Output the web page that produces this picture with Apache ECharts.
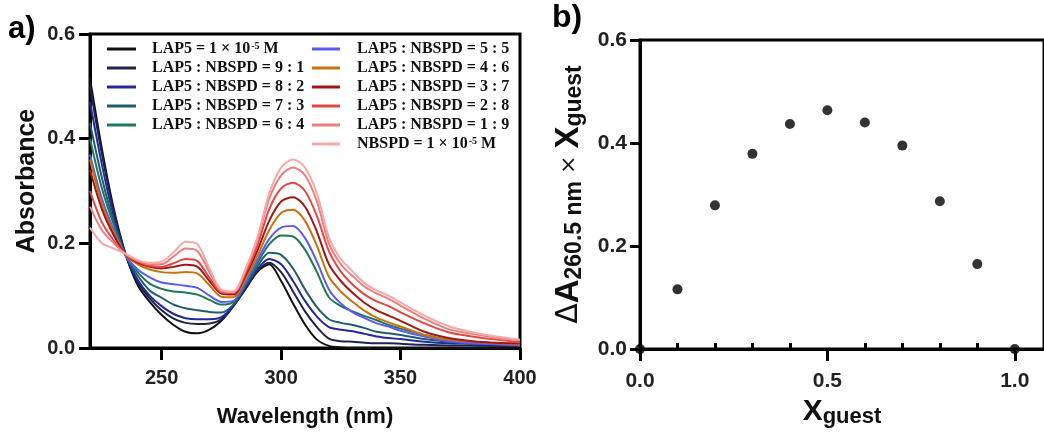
<!DOCTYPE html>
<html>
<head>
<meta charset="utf-8">
<script src="https://cdn.jsdelivr.net/npm/echarts@6/dist/echarts.min.js"></script>
<style>html,body{margin:0;padding:0;background:#fff;}#c{width:1044px;height:433px;}</style>
</head>
<body>
<div id="c"></div>
<script>
// ---------- DATA ----------
var wavelengths = [220,225,230,235,240,245,250,255,260,265,270,275,280,285,290,295,300,305,310,315,320,325,330,335,340,345,350,360,370,380,390,400];
var sLAP5   = [0.515,0.38,0.265,0.178,0.12,0.088,0.063,0.044,0.031,0.028,0.035,0.052,0.08,0.112,0.145,0.16,0.128,0.085,0.045,0.016,0.004,0.001,0,0,0,0,0,0,0,0,0,0];
var s91     = [0.50,0.37,0.26,0.177,0.125,0.095,0.072,0.056,0.048,0.046,0.047,0.055,0.08,0.113,0.147,0.163,0.145,0.108,0.07,0.04,0.018,0.013,0.012,0.01,0.009,0.009,0.008,0.006,0.005,0.005,0.004,0.004];
var s82     = [0.47,0.35,0.25,0.176,0.13,0.1,0.08,0.065,0.057,0.055,0.055,0.059,0.081,0.115,0.15,0.17,0.16,0.128,0.09,0.06,0.04,0.035,0.032,0.027,0.022,0.019,0.017,0.012,0.009,0.008,0.006,0.005];
var s73     = [0.43,0.325,0.24,0.176,0.138,0.11,0.096,0.083,0.076,0.072,0.069,0.068,0.083,0.118,0.155,0.182,0.178,0.152,0.112,0.078,0.055,0.048,0.044,0.038,0.031,0.028,0.025,0.017,0.012,0.009,0.007,0.006];
var s64     = [0.40,0.305,0.235,0.177,0.145,0.123,0.113,0.108,0.106,0.102,0.092,0.083,0.088,0.122,0.162,0.198,0.215,0.213,0.188,0.145,0.097,0.08,0.07,0.061,0.053,0.044,0.037,0.025,0.016,0.012,0.009,0.007];
var s55     = [0.37,0.285,0.225,0.176,0.15,0.135,0.125,0.122,0.119,0.115,0.1,0.088,0.09,0.124,0.167,0.208,0.23,0.233,0.21,0.165,0.112,0.085,0.068,0.057,0.047,0.041,0.033,0.022,0.013,0.009,0.007,0.005];
var s46     = [0.36,0.275,0.22,0.177,0.16,0.15,0.145,0.144,0.145,0.142,0.12,0.098,0.097,0.13,0.175,0.225,0.258,0.264,0.243,0.195,0.136,0.108,0.088,0.071,0.058,0.049,0.041,0.025,0.016,0.012,0.009,0.007];
var s37     = [0.34,0.265,0.215,0.178,0.163,0.155,0.152,0.155,0.159,0.155,0.128,0.104,0.102,0.137,0.185,0.243,0.28,0.288,0.27,0.222,0.16,0.128,0.105,0.086,0.072,0.062,0.052,0.031,0.019,0.013,0.01,0.009];
var s28     = [0.30,0.24,0.205,0.178,0.165,0.157,0.155,0.162,0.17,0.166,0.134,0.107,0.105,0.142,0.195,0.265,0.305,0.316,0.3,0.252,0.185,0.146,0.121,0.102,0.089,0.08,0.068,0.047,0.03,0.022,0.016,0.011];
var s19     = [0.27,0.225,0.2,0.179,0.167,0.16,0.16,0.175,0.19,0.185,0.145,0.109,0.107,0.147,0.205,0.285,0.33,0.345,0.33,0.28,0.2,0.16,0.137,0.117,0.104,0.094,0.081,0.056,0.036,0.027,0.02,0.015];
var sNBSPD  = [0.23,0.20,0.19,0.18,0.168,0.163,0.165,0.183,0.203,0.198,0.152,0.111,0.108,0.15,0.21,0.295,0.345,0.36,0.345,0.295,0.212,0.17,0.146,0.124,0.11,0.1,0.087,0.062,0.042,0.03,0.022,0.016];

var seriesNames = ['LAP5 = 1 × 10-5 M','LAP5 : NBSPD = 9 : 1','LAP5 : NBSPD = 8 : 2','LAP5 : NBSPD = 7 : 3','LAP5 : NBSPD = 6 : 4',
                   'LAP5 : NBSPD = 5 : 5','LAP5 : NBSPD = 4 : 6','LAP5 : NBSPD = 3 : 7','LAP5 : NBSPD = 2 : 8','LAP5 : NBSPD = 1 : 9','NBSPD = 1 × 10-5 M'];
var seriesColors = ['#111111','#1b2550','#23299a','#1f5d6e','#21775a','#5b5cf2','#c8720e','#a41616','#e84444','#f07c7c','#f6a8a8'];
var seriesValues = [sLAP5,s91,s82,s73,s64,s55,s46,s37,s28,s19,sNBSPD];

var xGuest = [0,0.1,0.2,0.3,0.4,0.5,0.6,0.7,0.8,0.9,1.0];
var dA = [0,0.116,0.279,0.379,0.437,0.4635,0.44,0.395,0.287,0.165,0];

var leftXTicks = [250,300,350,400];
var rightXMajor = [0,0.5,1.0];
var rightXMinor = [0.1,0.2,0.3,0.4,0.6,0.7,0.8,0.9];

// ---------- CHART ----------
var chart = echarts.init(document.getElementById('c'));
var SANS = 'Liberation Sans';
var axisLineStyle = {color:'#000', width:3};
var tickStyle = {color:'#000', width:3};

function legendFmt(name){
  var m = name.match(/^(.*)10-5( M)$/);
  if (m) return '{sp|}{t|' + m[1] + '10}{sup|-5}{t|' + m[2] + '}';
  return '{sp|}{t|' + name + '}';
}

var lineSeries = seriesValues.map(function(vals, i){
  return {
    name: seriesNames[i], type:'line', xAxisIndex:0, yAxisIndex:0,
    data: wavelengths.map(function(w,k){ return [w, vals[k]]; }),
    symbol:'none', smooth:0.3, lineStyle:{width:2, color:seriesColors[i]},
    itemStyle:{color:seriesColors[i]}, z: 2
  };
});

function legendRich(spW){
  return {
    sp:{width:spW},
    t:{fontFamily:'Liberation Serif', fontWeight:'bold', fontSize:16, color:'#111'},
    sup:{fontFamily:'Liberation Serif', fontWeight:'bold', fontSize:10, color:'#111', lineHeight:10, verticalAlign:'top', padding:[0,0,0,1]}
  };
}

var option = {
  animation:false,
  backgroundColor:'#fff',
  graphic:[
    {type:'text', left:8, top:14, style:{text:'a)', font:'bold 31px "Liberation Sans"', fill:'#000'}},
    {type:'text', left:552, top:2, style:{text:'b)', font:'bold 32px "Liberation Sans"', fill:'#000'}}
  ],
  grid:[
    {left:90, top:34, right:524, bottom:78, show:true, borderColor:'#000', borderWidth:3, containLabel:false},
    {left:640, top:40, right:-3, bottom:82, show:true, borderColor:'#000', borderWidth:3, containLabel:false}
  ],
  legend:[
    {data:seriesNames.slice(0,5), orient:'vertical', left:107, top:41, padding:0, itemGap:3, itemWidth:29, itemHeight:3,
     icon:'rect', formatter:legendFmt, textStyle:{rich:legendRich(11)}, selectedMode:false},
    {data:seriesNames.slice(5), orient:'vertical', left:312, top:41, padding:0, itemGap:3, itemWidth:28, itemHeight:3,
     icon:'rect', formatter:legendFmt, textStyle:{rich:legendRich(12)}, selectedMode:false}
  ],
  xAxis:[
    {gridIndex:0, type:'value', min:220, max:400,
     axisLine:{show:true, onZero:false, lineStyle:axisLineStyle},
     axisTick:{show:true, length:12, lineStyle:tickStyle, customValues:leftXTicks},
     axisLabel:{customValues:leftXTicks, margin:20, color:'#222', fontFamily:SANS, fontWeight:'bold', fontSize:20},
     splitLine:{show:false},
     name:'Wavelength (nm)', nameLocation:'middle', nameGap:58,
     nameTextStyle:{color:'#111', fontFamily:SANS, fontWeight:'bold', fontSize:22}},
    {gridIndex:1, type:'value', min:0, max:1.078,
     axisLine:{show:true, onZero:false, lineStyle:axisLineStyle},
     axisTick:{show:true, length:12, lineStyle:tickStyle, customValues:rightXMajor},
     axisLabel:{customValues:rightXMajor, margin:22, color:'#222', fontFamily:SANS, fontWeight:'bold', fontSize:21,
       formatter:function(v){return v.toFixed(1);}},
     splitLine:{show:false},
     name:'{x|X}{g|guest}', nameLocation:'middle', nameGap:34,
     nameTextStyle:{rich:{
       x:{fontFamily:SANS, fontWeight:'bold', fontSize:30, color:'#111', lineHeight:32},
       g:{fontFamily:SANS, fontWeight:'bold', fontSize:22, color:'#111', lineHeight:18, verticalAlign:'bottom'}
     }}},
    {gridIndex:1, type:'value', min:0, max:1.078,
     axisLine:{show:false}, axisLabel:{show:false}, splitLine:{show:false},
     axisTick:{show:true, length:6, lineStyle:tickStyle, customValues:rightXMinor}}
  ],
  yAxis:[
    {gridIndex:0, type:'value', min:0, max:0.6, interval:0.2,
     axisLine:{show:true, onZero:false, lineStyle:axisLineStyle},
     axisTick:{show:true, length:11, lineStyle:tickStyle},
     axisLabel:{margin:15, color:'#222', fontFamily:SANS, fontWeight:'bold', fontSize:20, formatter:function(v){return v.toFixed(1);}},
     splitLine:{show:false},
     name:'Absorbance', nameLocation:'middle', nameGap:50, nameRotate:90,
     nameTextStyle:{color:'#111', fontFamily:SANS, fontWeight:'bold', fontSize:25, padding:[0,0,0,20]}},
    {gridIndex:1, type:'value', min:0, max:0.6, interval:0.2,
     axisLine:{show:true, onZero:false, lineStyle:axisLineStyle},
     axisTick:{show:true, length:10, lineStyle:tickStyle},
     axisLabel:{margin:13, color:'#222', fontFamily:SANS, fontWeight:'bold', fontSize:21, formatter:function(v){return v.toFixed(1);}},
     splitLine:{show:false},
     name:'{d|Δ}{a|A}{s|260.5 nm}{m| × }{a|X}{s|guest}', nameLocation:'middle', nameGap:54, nameRotate:90,
     nameTextStyle:{rich:{
       d:{fontFamily:'DejaVu Sans', fontSize:30, color:'#111', lineHeight:34},
       a:{fontFamily:SANS, fontWeight:'bold', fontSize:33, color:'#111', lineHeight:34},
       s:{fontFamily:SANS, fontWeight:'bold', fontSize:23, color:'#111', lineHeight:20, verticalAlign:'bottom'},
       m:{fontFamily:'DejaVu Sans', fontSize:22, color:'#111', lineHeight:34}
     }}}
  ],
  series: lineSeries.concat([
    {type:'scatter', xAxisIndex:1, yAxisIndex:1, data:xGuest.map(function(x,i){return [x, dA[i]];}),
     symbol:'circle', symbolSize:10, itemStyle:{color:'#000'}, clip:false, z:5}
  ])
};
chart.setOption(option);
</script>
</body>
</html>
